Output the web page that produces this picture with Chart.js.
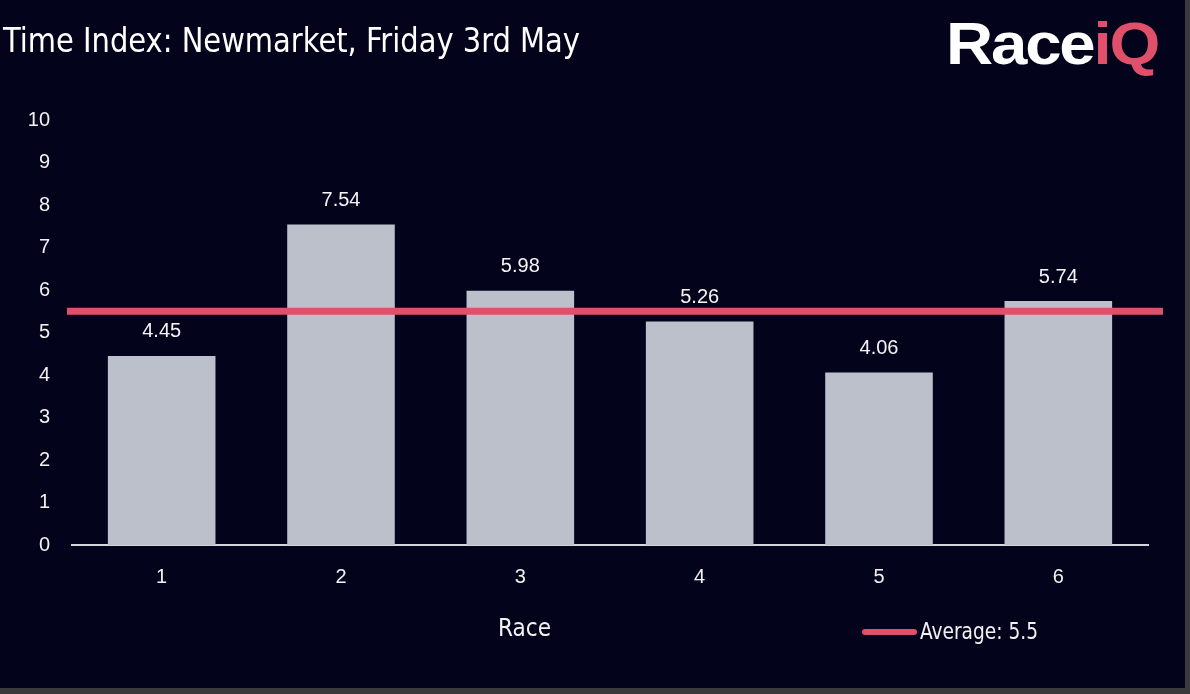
<!DOCTYPE html>
<html>
<head>
<meta charset="utf-8">
<script src="https://cdn.jsdelivr.net/npm/chart.js@4.4.1/dist/chart.umd.min.js"></script>
<style>
  html, body { margin:0; padding:0; width:1190px; height:694px; background:#3a3a3c; overflow:hidden; }
  #frame { position:absolute; left:0; top:0; width:1185px; height:688px; background:#04031c; }
  #chartWrap { position:absolute; left:0; top:0; width:1185px; height:688px; }
  .txt { position:absolute; white-space:nowrap; color:#ffffff; transform-origin:0 50%; }
  #title { left:3px; top:40px; font-family:"Liberation Sans Narrow","DejaVu Sans Condensed",sans-serif; font-size:34px; line-height:34px; margin-top:-17px; }
  #logo { left:946px; top:44px; font-family:"Liberation Sans","Arial",sans-serif; font-weight:bold; font-size:60px; line-height:60px; margin-top:-30px; letter-spacing:-2px; }
  #logo .r { color:#ffffff; }
  #logo .q { color:#e0506a; }
  #xtitle { left:498px; top:628px; font-family:"Liberation Sans Narrow","DejaVu Sans Condensed",sans-serif; font-size:24px; line-height:24px; margin-top:-12px; color:#f2f2f2; }
  #legend { position:absolute; left:862px; top:632px; width:200px; height:0; }
  #legend .sw { position:absolute; left:0; top:-3px; width:55px; height:6px; border-radius:3px; background:#e0506a; }
  #legend .lt { position:absolute; left:58px; top:0; font-family:"Liberation Sans Narrow","DejaVu Sans Condensed",sans-serif; font-size:23px; line-height:23px; margin-top:-12px; color:#f2f2f2; white-space:nowrap; transform-origin:0 50%; }
</style>
</head>
<body>
<div id="frame"></div>
<div id="chartWrap"><canvas id="c" width="1185" height="688"></canvas></div>
<div id="title" class="txt">Time Index: Newmarket, Friday 3rd May</div>
<div id="logo" class="txt"><span class="r">Race</span><span class="q">iQ</span></div>
<div id="xtitle" class="txt">Race</div>
<div id="legend"><div class="sw"></div><div class="lt" id="legendText"></div></div>
<script>
const races = ["1", "2", "3", "4", "5", "6"];
const timeIndex = [4.45, 7.54, 5.98, 5.26, 4.06, 5.74];
const averageValue = 5.5;
const yTicks = [0, 1, 2, 3, 4, 5, 6, 7, 8, 9, 10];

document.getElementById('legendText').textContent = 'Average: ' + averageValue;

function fitWidth(el, w) {
  const r = el.getBoundingClientRect();
  if (r.width > 0) el.style.transform = 'scaleX(' + (w / r.width) + ')';
}
fitWidth(document.getElementById('title'), 577);
fitWidth(document.getElementById('logo'), 212);
fitWidth(document.getElementById('xtitle'), 53);
fitWidth(document.getElementById('legendText'), 118);

const avgLinePlugin = {
  id: 'avgLine',
  afterDatasetsDraw(chart) {
    const ctx = chart.ctx;
    const y = chart.scales.y.getPixelForValue(averageValue);
    const area = chart.chartArea;
    ctx.save();
    ctx.strokeStyle = '#e0506a';
    ctx.lineWidth = 7;
    ctx.beginPath();
    ctx.moveTo(area.left - 5, y);
    ctx.lineTo(area.right + 15, y);
    ctx.stroke();
    ctx.restore();
  }
};

const valueLabelPlugin = {
  id: 'valueLabels',
  afterDatasetsDraw(chart) {
    const ctx = chart.ctx;
    const meta = chart.getDatasetMeta(0);
    ctx.save();
    ctx.fillStyle = '#f4f4f6';
    ctx.font = '20px "Liberation Sans", Arial, sans-serif';
    ctx.textAlign = 'center';
    ctx.textBaseline = 'middle';
    meta.data.forEach((bar, i) => {
      ctx.fillText(timeIndex[i].toFixed(2), bar.x, bar.y - 24);
    });
    ctx.restore();
  }
};

new Chart(document.getElementById('c'), {
  type: 'bar',
  data: {
    labels: races,
    datasets: [{
      label: 'Time Index',
      data: timeIndex,
      backgroundColor: '#bcc0cb',
      borderWidth: 0,
      barPercentage: 0.6,
      categoryPercentage: 1.0
    }]
  },
  options: {
    responsive: false,
    animation: false,
    devicePixelRatio: 1,
    layout: { padding: { top: 120, left: 0, right: 37, bottom: 0 } },
    plugins: { legend: { display: false }, tooltip: { enabled: false }, title: { display: false } },
    scales: {
      x: {
        grid: { display: false, drawTicks: false },
        border: { display: true, color: '#d4d6de', width: 2 },
        ticks: { color: '#f2f2f2', font: { family: '"Liberation Sans", Arial, sans-serif', size: 20 }, padding: 20 },
        afterFit(scale) { scale.height = 143; }
      },
      y: {
        min: 0, max: 10,
        afterBuildTicks(scale) { scale.ticks = yTicks.map(v => ({ value: v })); },
        grid: { display: false, drawTicks: false },
        border: { display: false },
        ticks: { color: '#f2f2f2', font: { family: '"Liberation Sans", Arial, sans-serif', size: 20 }, padding: 22 },
        afterFit(scale) { scale.width = 72; }
      }
    }
  },
  plugins: [avgLinePlugin, valueLabelPlugin]
});
</script>
</body>
</html>
